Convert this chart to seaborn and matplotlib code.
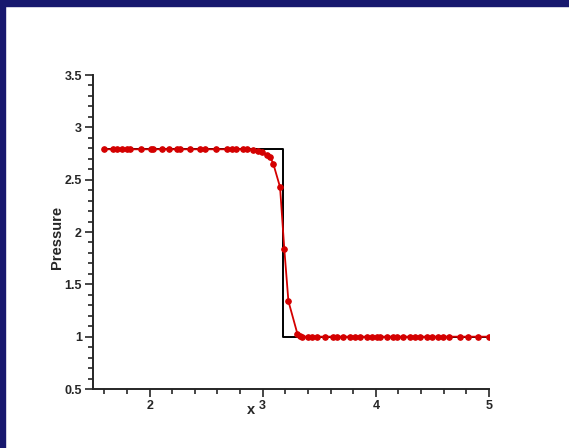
import numpy as np
import pandas as pd
import matplotlib
matplotlib.use("Agg")
import matplotlib.pyplot as plt
import seaborn as sns
from matplotlib.ticker import MultipleLocator
from matplotlib.patches import Rectangle

# numerical solution (red dots)
num_x = [1.60, 1.68, 1.71, 1.76, 1.80, 1.83, 1.92, 2.01, 2.03, 2.11, 2.17, 2.24, 2.27,
         2.36, 2.45, 2.49, 2.59, 2.68, 2.73, 2.76, 2.83, 2.86, 2.91, 2.96, 2.99,
         3.04, 3.065, 3.094, 3.153, 3.191, 3.227, 3.306, 3.33,
         3.35, 3.40, 3.44, 3.48, 3.55, 3.62, 3.66, 3.71, 3.77, 3.82, 3.86, 3.92,
         3.97, 4.01, 4.04, 4.10, 4.15, 4.19, 4.24, 4.30, 4.35, 4.39, 4.45, 4.50,
         4.55, 4.59, 4.65, 4.74, 4.81, 4.90, 5.00]
num_p = [2.79, 2.79, 2.79, 2.79, 2.79, 2.79, 2.79, 2.79, 2.79, 2.79, 2.79, 2.79, 2.79,
         2.79, 2.79, 2.79, 2.79, 2.79, 2.79, 2.79, 2.79, 2.79, 2.785, 2.77, 2.76,
         2.74, 2.72, 2.65, 2.43, 1.835, 1.34, 1.03, 1.005,
         1.0, 1.0, 1.0, 1.0, 1.0, 1.0, 1.0, 1.0, 1.0, 1.0, 1.0, 1.0,
         1.0, 1.0, 1.0, 1.0, 1.0, 1.0, 1.0, 1.0, 1.0, 1.0, 1.0, 1.0,
         1.0, 1.0, 1.0, 1.0, 1.0, 1.0, 1.0]

# exact solution (black step)
exact_x = [1.60, 3.18, 3.18, 5.00]
exact_p = [2.79, 2.79, 1.0, 1.0]

num = pd.DataFrame({"x": num_x, "Pressure": num_p})
exact = pd.DataFrame({"x": exact_x, "Pressure": exact_p})

sns.set_style("ticks")
plt.rcParams['font.family'] = ['Liberation Sans', 'DejaVu Sans']
plt.rcParams['font.weight'] = 'bold'

fig = plt.figure(figsize=(5.69, 4.48), dpi=100)
ax = fig.add_axes([93/569, 59/448, 396/569, 314/448])

# navy frame on top and left
fig.patches.append(Rectangle((0, 1 - 6/448), 1, 6/448, transform=fig.transFigure,
                             color='#17186e', zorder=0))
fig.patches.append(Rectangle((0, 0), 5/569, 1, transform=fig.transFigure,
                             color='#17186e', zorder=0))

sns.lineplot(data=exact, x="x", y="Pressure", sort=False, estimator=None,
             color='black', linewidth=1.4, ax=ax)
sns.lineplot(data=num, x="x", y="Pressure", sort=False, estimator=None,
             color='#d40000', linewidth=1.3, marker='o', markersize=4,
             markeredgecolor='#d40000', ax=ax)

ax.set_xlim(1.5, 5.0)
ax.set_ylim(0.5, 3.5)
ax.xaxis.set_minor_locator(MultipleLocator(0.2))
ax.yaxis.set_minor_locator(MultipleLocator(0.1))
ax.set_yticks([0.5, 1, 1.5, 2, 2.5, 3, 3.5])
ax.set_yticklabels(['0.5', '1', '1.5', '2', '2.5', '3', '3.5'])
ax.set_xticks([2, 3, 4, 5])
ax.set_xticklabels(['2', '3', '4', '5'])

ax.tick_params(which='major', length=6, width=1.2, labelsize=9, direction='out', pad=2)
ax.tick_params(which='minor', length=3.5, width=1.2, direction='out')
for lab in ax.get_xticklabels() + ax.get_yticklabels():
    lab.set_fontweight('bold')

sns.despine(ax=ax)
for s in ['left', 'bottom']:
    ax.spines[s].set_linewidth(1.4)

ax.set_xlabel('x', fontsize=10.5, fontweight='bold')
ax.set_ylabel('Pressure', fontsize=10.5, fontweight='bold')
ax.xaxis.set_label_coords(0.40, -0.045)
ax.yaxis.set_label_coords(-0.072, 0.484)

fig.savefig('out.png', dpi=100)
